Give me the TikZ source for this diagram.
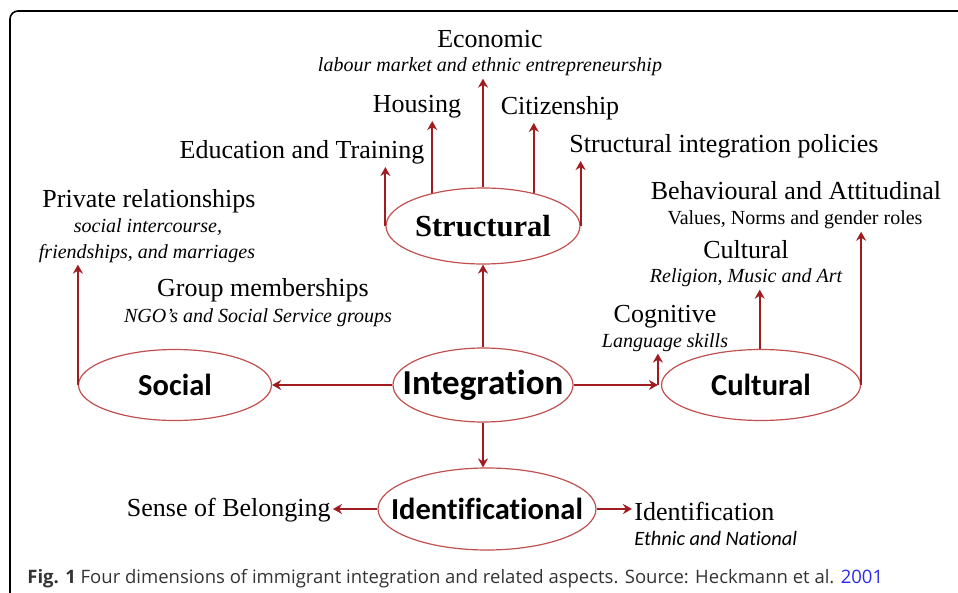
\documentclass[tikz,border=0pt]{standalone}
\usepackage{fontspec}
\setmainfont{Liberation Serif}
\newfontfamily\calfont[Ligatures=NoCommon]{Carlito}
\newfontfamily\capfont{Open Sans}
\usetikzlibrary{arrows.meta,shapes.geometric}
\definecolor{ringred}{HTML}{C0504D}
\definecolor{arrred}{HTML}{A01C20}
\definecolor{capgray}{HTML}{333333}
\definecolor{yearblue}{HTML}{2B2BF0}
\tikzset{
  head/.style={anchor=base, inner sep=1pt, font=\fontsize{13}{15}\selectfont},
  sub/.style={anchor=base, inner sep=1pt, font=\fontsize{10}{12}\selectfont\itshape},
  ring/.style={ellipse, draw=ringred, line width=0.6pt, inner sep=0pt,
    font=\calfont\bfseries\fontsize{15.25}{17}\selectfont},
  link/.style={arrred, line width=1pt, -{Stealth[length=4.5pt,width=5pt]}}
}
\begin{document}
\begin{tikzpicture}[x=0.5pt,y=-0.5pt]
  \useasboundingbox (0,0) rectangle (958,593) ;
  \draw [line width=0.8pt, rounded corners=4pt] (10,593) -- (10,11) -- (958,11) ;
  % the four dimensions
  \node [ring, minimum width=90pt, minimum height=37pt,
    font=\calfont\bfseries\fontsize{17.5}{19}\selectfont] (integ) at (483,385) {\makebox[0pt]{Integration}} ;
  \node [ring, minimum width=97pt, minimum height=38pt,
    font=\bfseries\fontsize{15.3}{17}\selectfont] (struct) at (483,226) {\makebox[0pt]{Structural}} ;
  \node [ring, minimum width=96.5pt, minimum height=35.5pt] (soc) at (175,385) {\makebox[0pt]{Social}} ;
  \node [ring, minimum width=99.5pt, minimum height=35.5pt] (cult) at (761,385) {\makebox[0pt]{Cultural}} ;
  \node [ring, minimum width=109pt, minimum height=41pt] (ident) at (487,509) {\makebox[0pt]{Identificational}} ;
  % structural aspects
  \node [head] (econ) at (490,48) {Economic} ;
  \node [sub] (labour) at (490,72) {labour market and ethnic entrepreneurship} ;
  \node [head] (hous) at (417,113) {Housing} ;
  \node [head] (citi) at (560,115) {Citizenship} ;
  \node [head] (edu) at (302,159) {Education and Training} ;
  \node [head] (pol) at (724,153) {Structural integration policies} ;
  % social aspects
  \node [head] (priv) at (149,208) {Private relationships} ;
  \node [sub] (socint) at (148,233) {social intercourse,} ;
  \node [sub] (friend) at (147,258) {friendships, and marriages} ;
  \node [head] (group) at (263,297) {Group memberships} ;
  \node [sub] (ngo) at (258,322) {NGO's and Social Service groups} ;
  % cultural aspects
  \node [head] (behav) at (796,200) {Behavioural and Attitudinal} ;
  \node [sub, font=\fontsize{10}{12}\selectfont] (values) at (795,225) {Values, Norms and gender roles} ;
  \node [head] (cultt) at (746,258) {Cultural} ;
  \node [sub] (relig) at (746,283) {Religion, Music and Art} ;
  \node [head] (cogn) at (665,322) {Cognitive} ;
  \node [sub] (lang) at (665,347) {Language skills} ;
  % identificational aspects
  \node [head, anchor=base east] (sense) at (333,516) {Sense of Belonging} ;
  \node [head, anchor=base west] (idf) at (632,520) {Identification} ;
  \node [sub, anchor=base west, font=\calfont\itshape\fontsize{10.2}{12}\selectfont] (ethnic) at (632,545) {Ethnic and National} ;
  \node [anchor=base west, inner sep=0pt, text=capgray,
    font=\capfont\fontsize{9.25}{11}\selectfont] (cap) at (27,583)
    {\textbf{Fig. 1} Four dimensions of immigrant integration and related aspects. Source: Heckmann et al. \textcolor{yearblue}{2001}} ;
  % connectors
  \coordinate (fork) at ([xshift=-1.5pt]cult.west) ;
  \draw [link] (integ.north) -- (struct.south) ;
  \draw [link] (integ.west) -- (soc.east) ;
  \draw [link] (integ.east) -- (fork) ;
  \draw [link] (integ.south) -- (integ.south |- ident.north) ;
  \draw [link] (fork) -- (fork |- lang.south) ;
  \draw [link] (struct.west) -- (struct.west |- edu.south) ;
  \draw [link] (struct.147) -- (struct.147 |- hous.south) ;
  \draw [link] (struct.north) -- (struct.north |- labour.south) ;
  \draw [link] (struct.33) -- (struct.33 |- citi.south) ;
  \draw [link] (struct.east) -- (struct.east |- pol.south) ;
  \draw [link] (soc.west) -- (soc.west |- friend.south) ;
  \draw [link] (cult.92) -- (cult.92 |- relig.south) ;
  \draw [link] (cult.east) -- (cult.east |- values.south) ;
  \draw [link] (ident.west) -- (ident.west -| sense.east) ;
  \draw [link] (ident.east) -- (ident.east -| idf.west) ;
\end{tikzpicture}
\end{document}
